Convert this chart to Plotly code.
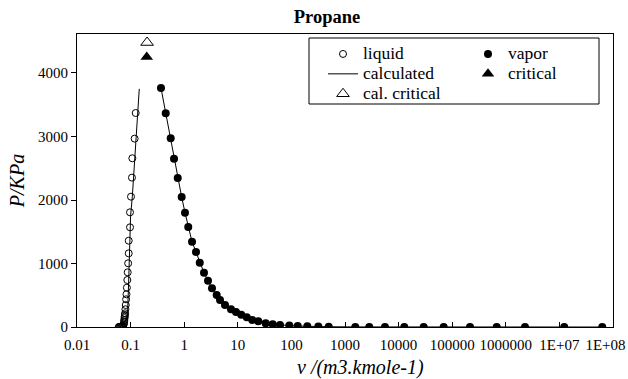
import plotly.graph_objects as go

# ---- data ----
liquid_v = [0.060, 0.062, 0.064, 0.066, 0.068, 0.070, 0.072, 0.074, 0.0752, 0.0758,
            0.0764, 0.0770, 0.0776, 0.0782, 0.0790, 0.0800, 0.0812, 0.0825, 0.0838,
            0.0852, 0.0868, 0.0883, 0.0900, 0.0922, 0.0922, 0.0975, 0.0975, 0.1017,
            0.1060, 0.1077, 0.1190, 0.1245]
liquid_p = [0.5, 1, 2, 4, 7, 12, 20, 35, 58, 85, 110, 140, 162, 190, 216, 279, 346,
            436, 515, 619, 740, 861, 1003, 1160, 1359, 1570, 1806, 2052, 2352, 2657,
            2966, 3370, 3769]
liquid_p = liquid_p[:len(liquid_v)]

vapor_v = [0.369, 0.452, 0.560, 0.646, 0.757, 0.897, 1.035, 1.19, 1.40, 1.66, 1.95,
           2.34, 2.78, 3.30, 4.04, 4.66, 5.77, 7.46, 9.25, 11.6, 14.7, 18.6, 24.1,
           33.1, 44.8, 61.3, 91.4, 131, 198, 318, 497, 1556, 2840, 5570, 12770,
           29380, 69300, 214800, 676000, 2.28e6, 1.23e7, 6.3e7]
vapor_p = [3764, 3365, 2971, 2651, 2346, 2047, 1800, 1575, 1344, 1181, 1013, 855,
           729, 609, 504, 425, 346, 278, 236, 194, 153, 110, 90, 58, 45, 30, 22, 15,
           10, 6, 4, 1.3, 0.7, 0.4, 0.2, 0.07, 0.03, 0.01, 0.003, 0.001, 0.0002,
           0.00003]

calc_liq_v = [0.062, 0.075, 0.085, 0.0883, 0.0922, 0.0975, 0.1000, 0.1076, 0.119, 0.1452]
calc_liq_p = [0, 40, 150, 268, 740, 1370, 1750, 2050, 2660, 3750]

crit_v, crit_p = [0.200], [4250]
calcrit_v, calcrit_p = [0.203], [4480]

x_tickvals = [0.01, 0.1, 1, 10, 100, 1000, 1e4, 1e5, 1e6, 1e7, 1e8]
x_ticktext = ["0.01", "0.1", "1", "10", "100", "1000", "10000", "100000",
              "1000000", "1E+07", "1E+08&nbsp;&nbsp;&nbsp;&nbsp;"]
y_tickvals = [0, 1000, 2000, 3000, 4000]

FONT = "'Liberation Serif', 'Times New Roman', Times, serif"

# plot-area geometry (pixels) used for positioning decorations
PL, PR, PT, PB = 77, 613, 34, 327
PW, PH = PR - PL, PB - PT


def px_x(x):
    return (x - PL) / PW


def px_y(y):
    return (PB - y) / PH


def big(name):
    return '<span style="font-size:17.5px">' + name + '</span>'


calc_v = calc_liq_v + [None] + vapor_v
calc_p = calc_liq_p + [None] + vapor_p

fig = go.Figure()
fig.add_trace(go.Scatter(x=liquid_v, y=liquid_p, mode="markers", name=big("liquid"),
                         legend="legend",
                         marker=dict(symbol="circle-open", size=7,
                                     color="black", line=dict(width=1, color="black"))))
fig.add_trace(go.Scatter(x=vapor_v, y=vapor_p, mode="markers", name=big("vapor"),
                         legend="legend2",
                         marker=dict(symbol="circle", size=8, color="black")))
fig.add_trace(go.Scatter(x=calc_v, y=calc_p, mode="lines", name=big("calculated"),
                         legend="legend",
                         line=dict(color="black", width=1), connectgaps=False))
fig.add_trace(go.Scatter(x=crit_v, y=crit_p, mode="markers", name=big("critical"),
                         legend="legend2",
                         marker=dict(symbol="triangle-up", size=11, color="black")))
fig.add_trace(go.Scatter(x=calcrit_v, y=calcrit_p, mode="markers",
                         name=big("cal. critical"), legend="legend",
                         marker=dict(symbol="triangle-up-open", size=11, color="black",
                                     line=dict(width=1, color="black"))))

leg_common = dict(orientation="v", xanchor="left", yanchor="top", y=px_y(39),
                  borderwidth=0, bgcolor="rgba(0,0,0,0)", traceorder="normal",
                  tracegroupgap=0, font=dict(family=FONT, size=13, color="black"))

fig.update_layout(
    width=628, height=379,
    margin=dict(l=PL, r=628 - PR, t=PT, b=379 - PB),
    paper_bgcolor="white", plot_bgcolor="white",
    font=dict(family=FONT, color="black", size=15),
    title=dict(text="<b>Propane</b>", x=px_x(327), xref="paper", xanchor="center",
               y=1 - 17 / 379, yref="container", yanchor="middle",
               font=dict(family=FONT, size=18.5, color="black")),
    showlegend=True,
    legend=dict(x=px_x(323), **leg_common),
    legend2=dict(x=px_x(468), **leg_common),
    shapes=[dict(type="rect", xref="paper", yref="paper",
                 x0=px_x(309), x1=px_x(599), y0=px_y(104), y1=px_y(38),
                 line=dict(color="black", width=1), fillcolor="rgba(0,0,0,0)")],
    xaxis=dict(type="log", range=[-2, 8], tickvals=x_tickvals, ticktext=x_ticktext,
               ticks="inside", ticklen=5, tickcolor="black", showgrid=False,
               zeroline=False, showline=True, linecolor="black", linewidth=1,
               mirror=True, ticklabeloverflow="allow", automargin=False,
               tickangle=0, ticklabelstandoff=4,
               tickfont=dict(family=FONT, size=15, color="black")),
    yaxis=dict(range=[0, 4614], tickvals=y_tickvals, ticks="outside", ticklen=5,
               tickcolor="black", showgrid=False, zeroline=False, showline=True,
               linecolor="black", linewidth=1, mirror=True, automargin=False,
               tickfont=dict(family=FONT, size=15, color="black"),
               title=dict(text="<i>P/KPa</i>", standoff=8,
                          font=dict(family=FONT, size=20, color="black"))),
    annotations=[dict(text="<i>v /(m3.kmole-1)</i>", xref="paper", yref="paper",
                      x=px_x(360), y=px_y(367), xanchor="center",
                      yanchor="middle", showarrow=False,
                      font=dict(family=FONT, size=20, color="black"))],
)

fig.write_html("out.html")
